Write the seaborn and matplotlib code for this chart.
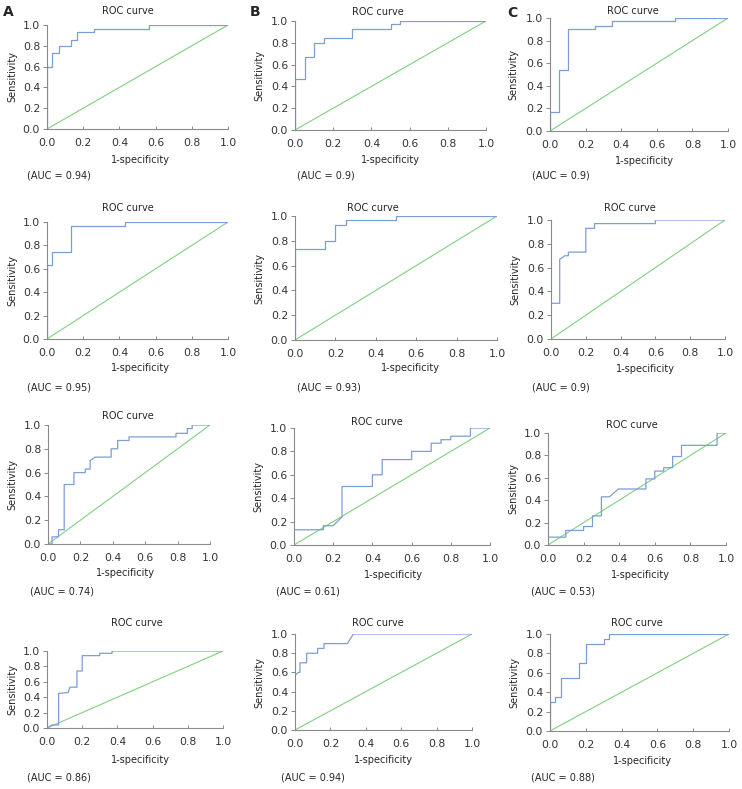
import matplotlib
matplotlib.use("Agg")
import matplotlib.pyplot as plt
import seaborn as sns

# ROC curve vertices: (1-specificity, sensitivity)
fpr_a1 = [0, 0, 0.03, 0.03, 0.065, 0.065, 0.13, 0.13, 0.165, 0.165, 0.26, 0.26, 0.565, 0.565, 1.0]
tpr_a1 = [0, 0.6, 0.6, 0.73, 0.73, 0.8, 0.8, 0.86, 0.86, 0.93, 0.93, 0.96, 0.96, 1.0, 1.0]

fpr_b1 = [0, 0, 0.05, 0.05, 0.1, 0.1, 0.15, 0.15, 0.3, 0.3, 0.5, 0.5, 0.55, 0.55, 1.0]
tpr_b1 = [0, 0.47, 0.47, 0.67, 0.67, 0.8, 0.8, 0.84, 0.84, 0.93, 0.93, 0.97, 0.97, 1.0, 1.0]

fpr_c1 = [0, 0, 0.05, 0.05, 0.1, 0.1, 0.25, 0.25, 0.35, 0.35, 0.7, 0.7, 1.0]
tpr_c1 = [0, 0.17, 0.17, 0.54, 0.54, 0.9, 0.9, 0.93, 0.93, 0.97, 0.97, 1.0, 1.0]

fpr_a2 = [0, 0, 0.03, 0.03, 0.13, 0.13, 0.43, 0.43, 1.0]
tpr_a2 = [0, 0.63, 0.63, 0.74, 0.74, 0.97, 0.97, 1.0, 1.0]

fpr_b2 = [0, 0, 0.15, 0.15, 0.2, 0.2, 0.25, 0.25, 0.5, 0.5, 1.0]
tpr_b2 = [0, 0.73, 0.73, 0.8, 0.8, 0.93, 0.93, 0.97, 0.97, 1.0, 1.0]

fpr_c2 = [0, 0, 0.05, 0.05, 0.08, 0.1, 0.1, 0.2, 0.2, 0.25, 0.25, 0.6, 0.6, 1.0]
tpr_c2 = [0, 0.3, 0.3, 0.67, 0.7, 0.7, 0.73, 0.73, 0.93, 0.93, 0.97, 0.97, 1.0, 1.0]

fpr_a3 = [0, 0.025, 0.025, 0.065, 0.065, 0.1, 0.1, 0.16, 0.16, 0.23, 0.23, 0.26, 0.26, 0.29,
          0.39, 0.39, 0.43, 0.43, 0.5, 0.5, 0.79, 0.79, 0.86, 0.86, 0.89, 0.89, 1.0]
tpr_a3 = [0, 0, 0.06, 0.06, 0.12, 0.12, 0.5, 0.5, 0.6, 0.6, 0.63, 0.63, 0.7, 0.73,
          0.73, 0.8, 0.8, 0.87, 0.87, 0.9, 0.9, 0.93, 0.93, 0.97, 0.97, 1.0, 1.0]

fpr_b3 = [0, 0, 0.15, 0.15, 0.2, 0.245, 0.245, 0.4, 0.4, 0.45, 0.45, 0.6, 0.6, 0.7, 0.7,
          0.75, 0.75, 0.8, 0.8, 0.9, 0.9, 1.0]
tpr_b3 = [0, 0.13, 0.13, 0.165, 0.165, 0.24, 0.5, 0.5, 0.6, 0.6, 0.73, 0.73, 0.8, 0.8, 0.87,
          0.87, 0.9, 0.9, 0.93, 0.93, 1.0, 1.0]

fpr_c3 = [0, 0, 0.1, 0.1, 0.2, 0.2, 0.25, 0.25, 0.3, 0.3, 0.345, 0.395, 0.55, 0.55, 0.6, 0.6,
          0.65, 0.65, 0.7, 0.7, 0.75, 0.75, 0.95, 0.95, 1.0]
tpr_c3 = [0, 0.07, 0.07, 0.13, 0.13, 0.165, 0.165, 0.26, 0.26, 0.43, 0.43, 0.5, 0.5, 0.59, 0.59,
          0.66, 0.66, 0.69, 0.69, 0.79, 0.79, 0.89, 0.89, 1.0, 1.0]

fpr_a4 = [0, 0.03, 0.066, 0.066, 0.12, 0.13, 0.17, 0.17, 0.2, 0.2, 0.3, 0.3, 0.37, 0.37, 1.0]
tpr_a4 = [0, 0.04, 0.04, 0.45, 0.46, 0.53, 0.53, 0.74, 0.74, 0.94, 0.94, 0.97, 0.97, 1.0, 1.0]

fpr_b4 = [0, 0, 0.02, 0.028, 0.028, 0.066, 0.066, 0.128, 0.128, 0.164, 0.164, 0.295, 0.33, 1.0]
tpr_b4 = [0, 0.57, 0.6, 0.6, 0.7, 0.7, 0.8, 0.8, 0.85, 0.85, 0.9, 0.9, 1.0, 1.0]

fpr_c4 = [0, 0, 0.028, 0.028, 0.061, 0.061, 0.164, 0.164, 0.2, 0.2, 0.3, 0.3, 0.33, 0.33, 1.0]
tpr_c4 = [0, 0.3, 0.3, 0.35, 0.35, 0.55, 0.55, 0.7, 0.7, 0.9, 0.9, 0.95, 0.95, 1.0, 1.0]

auc_values = ["0.94", "0.9", "0.9", "0.95", "0.93", "0.9", "0.74", "0.61", "0.53", "0.86", "0.94", "0.88"]
curves = [(fpr_a1, tpr_a1), (fpr_b1, tpr_b1), (fpr_c1, tpr_c1),
          (fpr_a2, tpr_a2), (fpr_b2, tpr_b2), (fpr_c2, tpr_c2),
          (fpr_a3, tpr_a3), (fpr_b3, tpr_b3), (fpr_c3, tpr_c3),
          (fpr_a4, tpr_a4), (fpr_b4, tpr_b4), (fpr_c4, tpr_c4)]
ticks = [0.0, 0.2, 0.4, 0.6, 0.8, 1.0]
tick_labels = ["0.0", "0.2", "0.4", "0.6", "0.8", "1.0"]

# Pixel layout of each panel: axes box (l, t, r, b), title, x label, y label x, AUC text
boxes = [(47, 25, 228, 129), (295, 21, 486, 130), (550, 18, 728, 131),
         (47, 222, 228, 339), (295, 216, 497, 340), (551, 220, 725, 339),
         (48, 425, 210, 544), (294, 428, 490, 545), (548, 433, 726, 545),
         (47, 651, 223, 728), (295, 634, 472, 730), (550, 634, 729, 731)]
title_pos = [(128, 11), (378, 12), (633, 11), (128, 208), (373, 208), (630, 208),
             (128, 416), (377, 422), (632, 425), (137, 623), (378, 623), (637, 623)]
xlab_pos = [(140, 160), (390, 160), (644, 161), (140, 368), (410, 368), (645, 369),
            (125, 573), (393, 575), (640, 575), (140, 760), (383, 760), (642, 761)]
ylab_x = [12, 259, 513, 12, 259, 515, 12, 258, 513, 12, 259, 514]
auc_pos = [(27, 175), (297, 175), (532, 176), (27, 388), (297, 387), (532, 387),
           (30, 592), (276, 592), (531, 592), (27, 778), (281, 778), (531, 778)]
letter_pos = [("A", 3, 12), ("B", 250, 12), ("C", 507, 13)]

sns.set_style("white")
plt.rcParams['font.family'] = ['DejaVu Sans']

W, H = 742, 789
fig = plt.figure(figsize=(W / 100, H / 100), dpi=100)
blue = "#7c9ed3"
green = "#7fd17f"
axis_col = "#8a8a8a"
fs = 7
tick_fs = 7.8

for i, (fpr, tpr) in enumerate(curves):
    l, t, r, b = boxes[i]
    ax = fig.add_axes([l / W, 1 - b / H, (r - l) / W, (b - t) / H])
    sns.lineplot(x=[0, 1], y=[0, 1], color=green, linewidth=0.8, ax=ax)
    sns.lineplot(x=fpr, y=tpr, sort=False, estimator=None, color=blue, linewidth=0.9, ax=ax)
    ax.set_xlim(0, 1)
    ax.set_ylim(0, 1)
    ax.set_xticks(ticks)
    ax.set_xticklabels(tick_labels)
    ax.set_yticks(ticks)
    ax.set_yticklabels(tick_labels)
    ax.set_xlabel("")
    ax.set_ylabel("")
    for s in ["top", "right"]:
        ax.spines[s].set_visible(False)
    for s in ["left", "bottom"]:
        ax.spines[s].set_color(axis_col)
        ax.spines[s].set_linewidth(0.8)
    ax.tick_params(axis="x", direction="in", length=2.5, width=0.7, color=axis_col,
                   labelsize=tick_fs, pad=6.5, bottom=True, labelcolor="#333333")
    ax.tick_params(axis="y", direction="out", length=3, width=0.7, color=axis_col,
                   labelsize=tick_fs, pad=2, left=True, labelcolor="#333333")
    ax.patch.set_alpha(0)

    tx, ty = title_pos[i]
    fig.text(tx / W, 1 - ty / H, "ROC curve", ha="center", va="center", fontsize=fs)
    xx, xy = xlab_pos[i]
    fig.text(xx / W, 1 - xy / H, "1-specificity", ha="center", va="center", fontsize=fs)
    fig.text(ylab_x[i] / W, 1 - ((t + b) / 2) / H, "Sensitivity", rotation=90,
             ha="center", va="center", fontsize=fs)
    axx, axy = auc_pos[i]
    fig.text(axx / W, 1 - axy / H, f"(AUC = {auc_values[i]})", ha="left", va="center", fontsize=fs)

for letter, lx, ly in letter_pos:
    fig.text(lx / W, 1 - ly / H, letter, ha="left", va="center", fontsize=10, fontweight="bold")

fig.savefig("out.png", dpi=100)
